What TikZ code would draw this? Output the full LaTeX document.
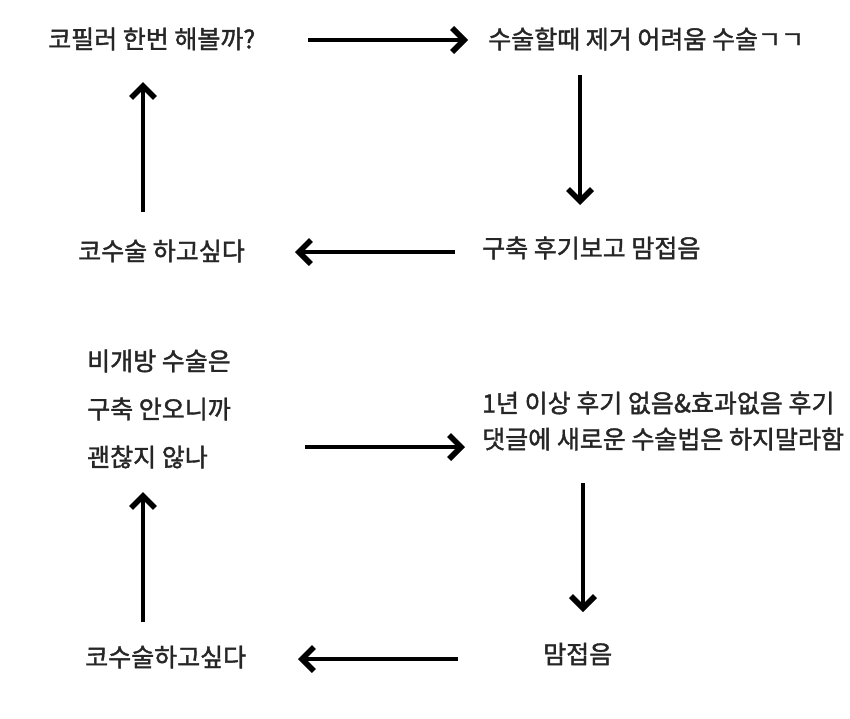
\documentclass[tikz,border=0pt]{standalone}
\usepackage{fontspec}
\setmainfont[FakeBold=1.5]{Noto Sans CJK KR}
\usetikzlibrary{arrows.meta}
\definecolor{txt}{HTML}{262626}
\tikzset{
  lbl/.style={anchor=west, inner sep=0pt, text=txt, font=\fontsize{25}{30}\selectfont},
  arr/.style={line width=4pt, -{Straight Barb[length=12pt, width=24pt, line width=5.5pt]}}
}
\begin{document}
\begin{tikzpicture}[x=1pt, y=-1pt]
\useasboundingbox[fill=white] (0,0) rectangle (850,718);
% top cycle
\node[lbl] (a1) at (48,39) {코필러 한번 해볼까?};
\node[lbl] (a2) at (488,39) {수술할때 제거 어려움 수술ㄱㄱ};
\node[lbl] (a3) at (482,248) {구축 후기보고 맘접음};
\node[lbl] (a4) at (78,251) {코수술 하고싶다};
\coordinate (p1s) at (308,40); \coordinate (p1e) at (468,40);
\coordinate (p2s) at (580,75); \coordinate (p2e) at (580,205);
\coordinate (p3s) at (455,252); \coordinate (p3e) at (295,252);
\coordinate (p4s) at (143,212); \coordinate (p4e) at (143,82);
\draw[arr] (p1s) -- (p1e);
\draw[arr] (p2s) -- (p2e);
\draw[arr] (p3s) -- (p3e);
\draw[arr] (p4s) -- (p4e);
% bottom cycle
\node[lbl] (b1a) at (87,361) {비개방 수술은};
\node[lbl] (b1b) at (87,409) {구축 안오니까};
\node[lbl] (b1c) at (87,457) {괜찮지 않나};
\node[lbl] (b2a) at (482,403) {1년 이상 후기 없음\&효과없음 후기};
\node[lbl] (b2b) at (482,439) {댓글에 새로운 수술법은 하지말라함};
\node[lbl] (b3) at (543,654) {맘접음};
\node[lbl] (b4) at (85,657) {코수술하고싶다};
\coordinate (q1s) at (305,447); \coordinate (q1e) at (465,447);
\coordinate (q2s) at (583,483); \coordinate (q2e) at (583,612);
\coordinate (q3s) at (458,659); \coordinate (q3e) at (298,659);
\coordinate (q4s) at (143,622); \coordinate (q4e) at (143,492);
\draw[arr] (q1s) -- (q1e);
\draw[arr] (q2s) -- (q2e);
\draw[arr] (q3s) -- (q3e);
\draw[arr] (q4s) -- (q4e);
\end{tikzpicture}
\end{document}
